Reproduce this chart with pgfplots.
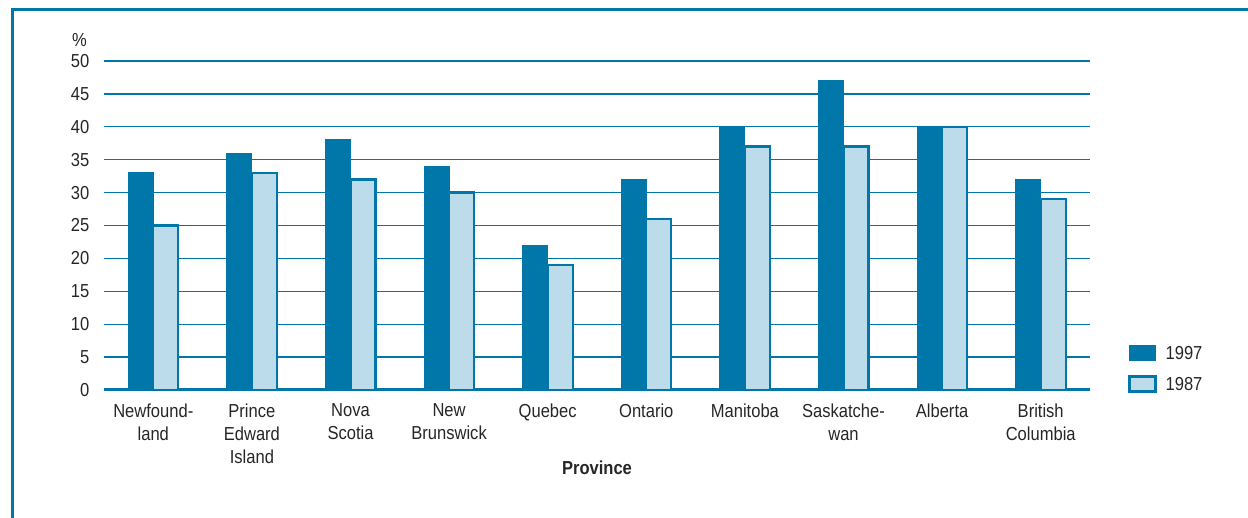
\documentclass[border=0pt]{standalone}
\usepackage{fontspec}
\setmainfont{Liberation Sans}[FakeStretch=0.88]
\usepackage{pgfplots}
\pgfplotsset{compat=1.18}
\definecolor{dblue}{HTML}{0077A8}
\definecolor{lblue}{HTML}{BCDCEC}
\begin{document}
\fontsize{9.4}{11.6}\selectfont
\begin{tikzpicture}[x=1pt,y=1pt]
\useasboundingbox (0,0) rectangle (624,259);
\draw[dblue, line width=1.5pt] (6,0) -- (6,254) -- (624,254);
\begin{axis}[at={(52pt,64pt)}, anchor=south west, scale only axis,
  width=493pt, height=164.5pt,
  xmin=-0.5, xmax=9.5, ymin=0, ymax=50,
  ytick={0,5,...,50}, xtick={0,...,9},
  xticklabels={Newfound-\\land, Prince\\Edward\\Island, Nova\\Scotia, New\\Brunswick, Quebec, Ontario, Manitoba, Saskatche-\\wan, Alberta, British\\Columbia},
  /pgf/number format/assume math mode=true,
  tick label style={font=\fontsize{9.4}{11.6}\selectfont, text=black!85},
  xticklabel style={align=center, yshift=-3.5pt},
  yticklabel style={xshift=-4pt},
  axis x line=bottom, axis y line=left,
  y axis line style={draw=none},
  x axis line style={dblue, line width=1.5pt, -},
  major tick length=0pt,
  ymajorgrids, grid style={dblue, line width=0.65pt},
  ybar=0pt, bar width=12.5pt,
  xlabel={\bfseries Province},
  xlabel style={at={(axis description cs:0.5,0)}, anchor=center, yshift=-39pt, font=\fontsize{9.4}{11.6}\selectfont, text=black!85},
  clip=false,
  legend image code/.code={\draw[#1] (0pt,-3.75pt) rectangle (13pt,3.75pt);},
  legend style={draw=none, fill=none, at={(rel axis cs:1,0)}, anchor=south west,
    xshift=19pt, yshift=-1.5pt, inner sep=0pt, row sep=7pt, column sep=4.5pt,
    nodes={inner sep=0pt, text height=7pt, text depth=0.5pt, font=\fontsize{9.4}{11.6}\selectfont, text=black!85}},
  legend cell align=left,
]
\addplot[fill=dblue, draw=dblue, line width=0.5pt] coordinates {(0,33) (1,36) (2,38) (3,34) (4,22) (5,32) (6,40) (7,47) (8,40) (9,32)};
\addplot[fill=lblue, draw=dblue, line width=1.1pt] coordinates {(0,25) (1,33) (2,32) (3,30) (4,19) (5,26) (6,37) (7,37) (8,40) (9,29)};
\legend{1997,1987}
\node[text=black!85, font=\fontsize{9.4}{11.6}\selectfont] at (rel axis cs:0,1) [xshift=-12.25pt, yshift=10.5pt] {\%};
\end{axis}
\end{tikzpicture}
\end{document}
